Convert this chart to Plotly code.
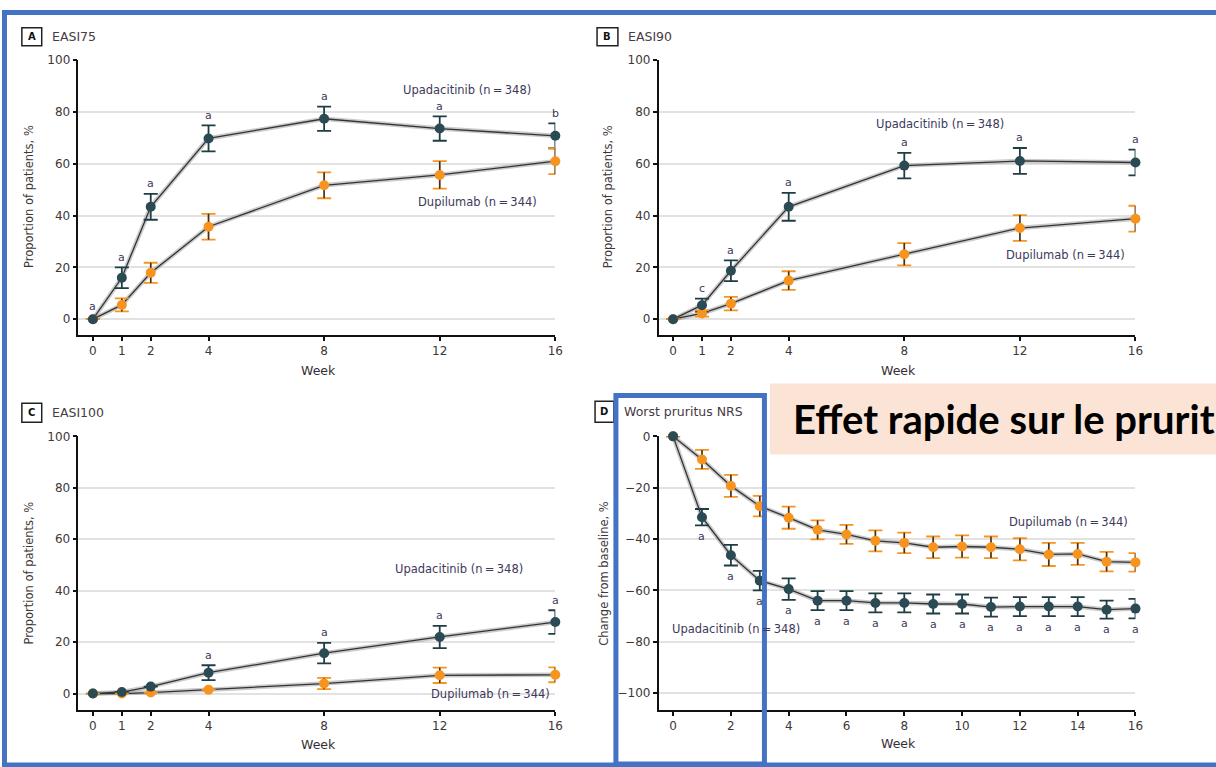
import plotly.graph_objects as go

W, H = 1216, 767

# ---------------- data ----------------
weeks_easi = [0, 1, 2, 4, 8, 12, 16]
weeks_nrs = list(range(17))

easi75_upa = [0, 16.0, 43.4, 69.8, 77.4, 73.6, 70.8]
easi75_upa_err = [0, 4.0, 5.0, 5.0, 4.7, 4.7, 4.8]
easi75_dup = [0, 5.5, 17.9, 35.7, 51.7, 55.7, 61.0]
easi75_dup_err = [0, 2.5, 3.9, 5.0, 5.0, 5.3, 5.0]
easi75_sig = ["a", "a", "a", "a", "a", "a", "b"]

easi90_upa = [0, 5.4, 18.7, 43.4, 59.3, 61.1, 60.5]
easi90_upa_err = [0, 2.5, 4.0, 5.4, 4.9, 5.0, 5.0]
easi90_dup = [0, 2.2, 6.0, 14.9, 25.1, 35.2, 38.8]
easi90_dup_err = [0, 1.2, 2.6, 3.6, 4.3, 5.0, 5.0]
easi90_sig = ["", "c", "a", "a", "a", "a", "a"]

easi100_upa = [0, 0.6, 2.7, 8.1, 15.7, 22.0, 27.8]
easi100_upa_err = [0, 0, 0, 2.9, 4.0, 4.3, 4.6]
easi100_dup = [0, 0, 0.4, 1.5, 3.9, 7.1, 7.3]
easi100_dup_err = [0, 0, 0, 0, 2.2, 3.0, 2.9]
easi100_sig = ["", "", "", "a", "a", "a", "a"]

nrs_upa = [0, -31.5, -46.3, -56.2, -59.5, -64.0, -64.0, -64.9, -64.9,
           -65.3, -65.3, -66.5, -66.3, -66.3, -66.3, -67.5, -67.1]
nrs_upa_err = [0, 3.2, 4.0, 3.8, 4.2, 3.7, 3.7, 3.7, 3.7,
               3.7, 3.7, 3.7, 3.7, 3.7, 3.7, 3.5, 3.8]
nrs_dup = [0, -9.0, -19.3, -27.2, -31.7, -36.4, -38.2, -40.7, -41.5,
           -43.2, -42.9, -43.2, -44.0, -46.0, -45.8, -48.8, -49.1]
nrs_dup_err = [0, 3.7, 4.3, 4.0, 4.3, 3.7, 3.7, 4.1, 4.0,
               4.2, 4.3, 4.2, 4.3, 4.5, 4.3, 3.8, 3.6]
nrs_sig = [""] + ["a"] * 16

upa_label = "Upadacitinib (n\u2009=\u2009348)"
dup_label = "Dupilumab (n\u2009=\u2009344)"

# ---------------- styles ----------------
UPA = "#2a4b53"
DUP = "#f7941d"
TXT = "#3d3838"
LBL = "#40395a"
BLUE = "#4472C4"
FONT = "DejaVu Sans"


def X(px):
    return px / W


def Y(py):
    return 1 - py / H


fig = go.Figure()


def add_panel(n, weeks, upa, upa_err, dup, dup_err, sig, below):
    xa = "x" if n == 1 else f"x{n}"
    ya = "y" if n == 1 else f"y{n}"
    common = dict(xaxis=xa, yaxis=ya, showlegend=False, hoverinfo="skip", cliponaxis=False)
    for ys in (dup, upa):
        fig.add_trace(go.Scatter(x=weeks, y=ys, mode="lines",
                                 line=dict(color="rgba(160,160,160,0.55)", width=4.5), **common))
    for ys in (dup, upa):
        fig.add_trace(go.Scatter(x=weeks, y=ys, mode="lines",
                                 line=dict(color="#333333", width=1.3), **common))
    fig.add_trace(go.Scatter(x=weeks, y=upa, mode="markers", marker=dict(color="rgba(0,0,0,0)", size=2),
                             error_y=dict(type="data", array=upa_err, color="#1f3d44", thickness=1.8, width=7),
                             **common))
    fig.add_trace(go.Scatter(x=weeks, y=dup, mode="markers", marker=dict(color="rgba(0,0,0,0)", size=2),
                             error_y=dict(type="data", array=dup_err, color=DUP, thickness=1.8, width=7),
                             **common))
    fig.add_trace(go.Scatter(x=weeks, y=dup, mode="markers", marker=dict(color="rgba(0,0,0,0)", size=2),
                             error_y=dict(type="data", array=dup_err, color="#333333", thickness=1.5, width=0),
                             **common))
    fig.add_trace(go.Scatter(x=weeks, y=dup, mode="markers", marker=dict(color=DUP, size=10), **common))
    fig.add_trace(go.Scatter(x=weeks, y=upa, mode="markers", marker=dict(color=UPA, size=10), **common))
    for w, v, e, s in zip(weeks, upa, upa_err, sig):
        if not s:
            continue
        if below:
            fig.add_annotation(x=w, y=v - e, xref=xa, yref=ya, text=s, showarrow=False,
                               xanchor="center", yanchor="middle",
                               yshift=-11, font=dict(family=FONT, size=11, color=LBL))
        else:
            fig.add_annotation(x=w, y=v + e, xref=xa, yref=ya, text=s, showarrow=False,
                               xanchor="center", yanchor="middle",
                               yshift=10 if e else 13, font=dict(family=FONT, size=11, color=LBL))


add_panel(1, weeks_easi, easi75_upa, easi75_upa_err, easi75_dup, easi75_dup_err, easi75_sig, False)
add_panel(2, weeks_easi, easi90_upa, easi90_upa_err, easi90_dup, easi90_dup_err, easi90_sig, False)
add_panel(3, weeks_easi, easi100_upa, easi100_upa_err, easi100_dup, easi100_dup_err, easi100_sig, False)
add_panel(4, weeks_nrs, nrs_upa, nrs_upa_err, nrs_dup, nrs_dup_err, nrs_sig, True)

tickfont = dict(family=FONT, size=12, color=TXT)
axis_common = dict(showline=True, linecolor="#111111", linewidth=1.6, ticks="outside",
                   ticklen=4, tickwidth=1.5, tickcolor="#111111", zeroline=False,
                   tickfont=tickfont, fixedrange=True)
xa_left = [X(79), X(559)]
xa_right = [X(663), X(1143)]
ya_top = [Y(331), Y(53.7)]
ya_bot = [Y(709.5), Y(433.3)]

grid = dict(showgrid=True, gridcolor="#e2e2e2", gridwidth=1.6)

fig.update_layout(
    width=W, height=H, margin=dict(l=0, r=0, t=0, b=0, pad=0), autosize=False,
    paper_bgcolor="white", plot_bgcolor="white",
    xaxis=dict(domain=xa_left, range=[-0.5, 16], tickvals=weeks_easi, showgrid=False, anchor="y", **axis_common),
    yaxis=dict(domain=ya_top, range=[-6.1, 100], tickvals=[0, 20, 40, 60, 80, 100], anchor="x", **grid, **axis_common),
    xaxis2=dict(domain=xa_right, range=[-0.5, 16], tickvals=weeks_easi, showgrid=False, anchor="y2", **axis_common),
    yaxis2=dict(domain=ya_top, range=[-6.1, 100], tickvals=[0, 20, 40, 60, 80, 100], anchor="x2", **grid, **axis_common),
    xaxis3=dict(domain=xa_left, range=[-0.5, 16], tickvals=weeks_easi, showgrid=False, anchor="y3", **axis_common),
    yaxis3=dict(domain=ya_bot, range=[-6.4, 100], tickvals=[0, 20, 40, 60, 80, 100], anchor="x3", **grid, **axis_common),
    xaxis4=dict(domain=xa_right, range=[-0.5, 16], tickvals=list(range(0, 17, 2)), showgrid=False, anchor="y4", **axis_common),
    yaxis4=dict(domain=ya_bot, range=[-106.6, 0], tickvals=[0, -20, -40, -60, -80, -100], anchor="x4", **grid, **axis_common),
)


def paper_text(xp, yp, text, font, xanchor="center", angle=0):
    fig.add_annotation(x=X(xp), y=Y(yp), xref="paper", yref="paper", text=text, showarrow=False,
                       xanchor=xanchor, yanchor="middle", textangle=angle, font=font)


# axis titles
title_font = dict(family=FONT, size=12.5, color="#332f35")
for xp, yp in [(321, 367), (904, 367), (321, 744), (904, 743)]:
    paper_text(xp, yp, "Week", title_font)
for xp, yp, t in [(29, 191, "Proportion of patients, %"), (612, 191, "Proportion of patients, %"),
                  (29, 571, "Proportion of patients, %"), (608, 572, "Change from baseline, %")]:
    paper_text(xp, yp, t, dict(family=FONT, size=11.5, color=TXT), angle=-90)

# series labels
lab_font = dict(family=FONT, size=11.5, color=LBL)
for xr, yr, xv, yv, t in [
    ("x", "y", 12.95, 88.4, upa_label), ("x", "y", 13.3, 45.1, dup_label),
    ("x2", "y2", 9.22, 75.4, upa_label), ("x2", "y2", 13.58, 24.6, dup_label),
    ("x3", "y3", 12.67, 48.5, upa_label), ("x3", "y3", 13.77, 0.0, dup_label),
    ("x4", "y4", 13.68, -33.4, dup_label), ("x4", "y4", 2.16, -75.2, upa_label),
]:
    fig.add_annotation(x=xv, y=yv, xref=xr, yref=yr, text=t, showarrow=False,
                       xanchor="center", yanchor="middle", font=lab_font)

# panel headers
shapes = []
for (x0, y0, x1, y1, letter, title) in [
    (22, 21, 42, 39, "A", "EASI75"), (601, 21, 622, 39, "B", "EASI90"),
    (22, 400, 42, 419, "C", "EASI100"), (599, 398, 618, 419, "D", "Worst pruritus NRS"),
]:
    shapes.append(dict(type="rect", xref="paper", yref="paper", x0=X(x0), x1=X(x1), y0=Y(y0), y1=Y(y1),
                       line=dict(color="#222222", width=1.5), fillcolor="white", layer="above"))
    paper_text((x0 + x1) / 2, (y0 + y1) / 2, f"<b>{letter}</b>", dict(family=FONT, size=10, color="#111111"))
    paper_text(x1 + 8, (y0 + y1) / 2, title, dict(family=FONT, size=12.5, color="#463b42"), xanchor="left")

# overlays (blue frames, peach callout)
shapes.append(dict(type="rect", xref="paper", yref="paper", x0=X(775), x1=X(1240), y0=Y(380), y1=Y(451.7),
                   line=dict(width=0), fillcolor="#FBE4D5", layer="above"))
shapes.append(dict(type="rect", xref="paper", yref="paper", x0=X(4.5), x1=X(1260), y0=Y(5.5), y1=Y(765),
                   line=dict(color=BLUE, width=5), fillcolor="rgba(0,0,0,0)", layer="above"))
shapes.append(dict(type="rect", xref="paper", yref="paper", x0=X(620), x1=X(769.5), y0=Y(392), y1=Y(764),
                   line=dict(color=BLUE, width=5), fillcolor="rgba(0,0,0,0)", layer="above"))
fig.update_layout(shapes=shapes)

paper_text(796, 416, "<b>Effet rapide sur le prurit</b>",
           dict(family="Lato", size=40, color="#000000"), xanchor="left")

fig.write_html("out.html")
